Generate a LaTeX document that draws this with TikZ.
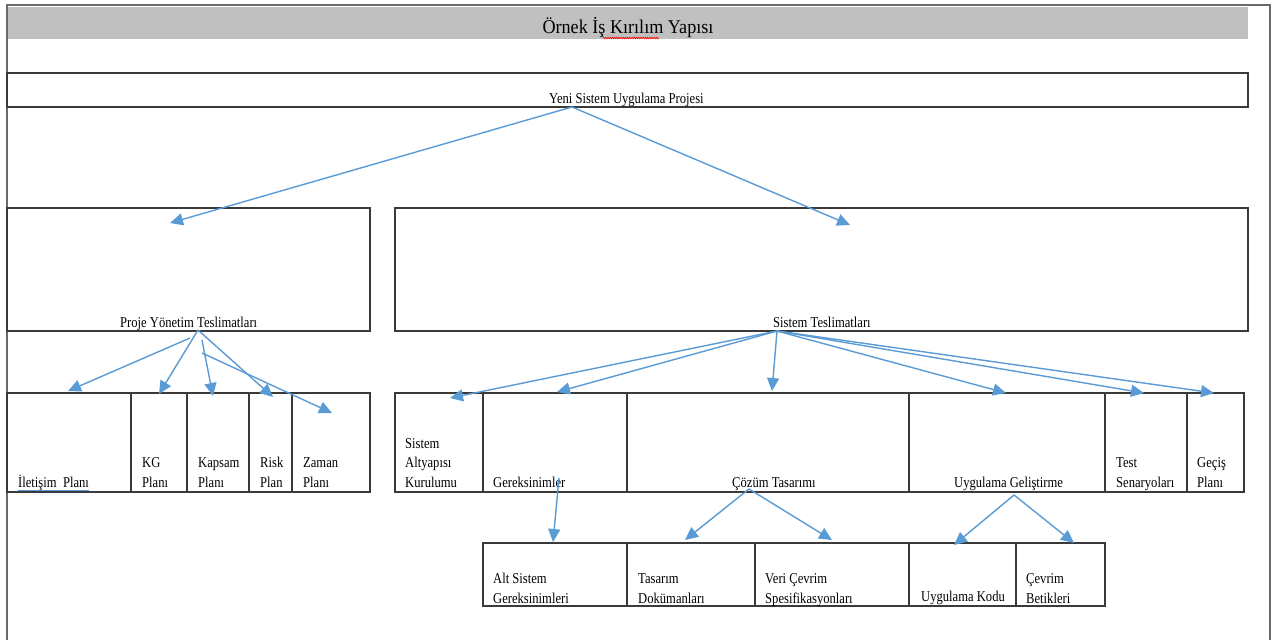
\documentclass[tikz,border=0pt]{standalone}
\usepackage{fontspec}
\setmainfont{Liberation Serif}
\newfontfamily\bodyfont{Liberation Serif}[FakeStretch=0.84]
\newfontfamily\headfont{Liberation Serif}[FakeStretch=0.93]
\usetikzlibrary{arrows.meta,decorations.pathmorphing}
\definecolor{wbsblue}{HTML}{5B9BD5}
\definecolor{wbsline}{HTML}{3A3A3A}
\definecolor{frameline}{HTML}{6A6A6A}
\definecolor{band}{HTML}{C0C0C0}
% stacked label whose baseline is the baseline of its last line
\newcommand\stacked[1]{\parbox[b]{140pt}{\raggedright\bodyfont\fontsize{15}{19.5}\selectfont #1}}
\tikzset{
  cell/.style={draw=wbsline, line width=1.3pt, anchor=north west, inner sep=0pt, outer sep=0pt},
  lbl/.style={inner sep=0pt, anchor=base west, font=\bodyfont\fontsize{15}{19.5}\selectfont},
  link/.style={draw=wbsblue, line width=1.4pt, -{Triangle[length=13pt,width=12pt]}},
}
\begin{document}
\begin{tikzpicture}[x=1pt,y=-1pt]
\useasboundingbox (0,0) rectangle (1273,640);
\fill[white] (0,0) rectangle (1273,640);

% heading band
\fill[band] (8,7) rectangle (1248,39);
\draw[frameline, line width=2pt] (7,640) -- (7,5) -- (1270,5) -- (1270,640);
\node[inner sep=0pt, anchor=base, font=\headfont\fontsize{19.5}{22}\selectfont] (title) at (628,33) {Örnek İş Kırılım Yapısı};
\draw[red, line width=0.6pt, decorate, decoration={zigzag, amplitude=0.8pt, segment length=2.2pt}] (603,38) -- (659,38);

% level 1
\node[cell, minimum width=1241pt, minimum height=34pt] (root) at (7,73) {};
\node[lbl] (root-t) at (549,103) {Yeni Sistem Uygulama Projesi};

% level 2
\node[cell, minimum width=363pt, minimum height=123pt] (pm) at (7,208) {};
\node[cell, minimum width=853pt, minimum height=123pt] (sys) at (395,208) {};
\node[lbl] (pm-t) at (120,327) {Proje Yönetim Teslimatları};
\node[lbl] (sys-t) at (773,327) {Sistem Teslimatları};

% level 3, project management
\node[cell, minimum width=124pt, minimum height=99pt] (ilet) at (7,393) {};
\node[cell, minimum width=56pt, minimum height=99pt] (kg) at (131,393) {};
\node[cell, minimum width=62pt, minimum height=99pt] (kap) at (187,393) {};
\node[cell, minimum width=43pt, minimum height=99pt] (risk) at (249,393) {};
\node[cell, minimum width=78pt, minimum height=99pt] (zam) at (292,393) {};
\node[lbl] (ilet-t) at (18,487) {İletişim\ \ Planı};
\draw[wbsblue, line width=1pt] (18,490) -- (89,490);
\node[lbl] (kg-t) at (142,487) {\stacked{KG\\Planı}};
\node[lbl] (kap-t) at (198,487) {\stacked{Kapsam\\Planı}};
\node[lbl] (risk-t) at (260,487) {\stacked{Risk\\Plan}};
\node[lbl] (zam-t) at (303,487) {\stacked{Zaman\\Planı}};

% level 3, system
\node[cell, minimum width=88pt, minimum height=99pt] (alt) at (395,393) {};
\node[cell, minimum width=144pt, minimum height=99pt] (ger) at (483,393) {};
\node[cell, minimum width=282pt, minimum height=99pt] (coz) at (627,393) {};
\node[cell, minimum width=196pt, minimum height=99pt] (uyg) at (909,393) {};
\node[cell, minimum width=82pt, minimum height=99pt] (test) at (1105,393) {};
\node[cell, minimum width=57pt, minimum height=99pt] (gec) at (1187,393) {};
\node[lbl] (alt-t) at (405,487) {\stacked{Sistem\\Altyapısı\\Kurulumu}};
\node[lbl] (ger-t) at (493,487) {Gereksinimler};
\node[lbl] (coz-t) at (732,487) {Çözüm Tasarımı};
\node[lbl] (uyg-t) at (954,487) {Uygulama Geliştirme};
\node[lbl] (test-t) at (1116,487) {\stacked{Test\\Senaryoları}};
\node[lbl] (gec-t) at (1197,487) {\stacked{Geçiş\\Planı}};

% level 4
\node[cell, minimum width=144pt, minimum height=63pt] (ags) at (483,543) {};
\node[cell, minimum width=128pt, minimum height=63pt] (tas) at (627,543) {};
\node[cell, minimum width=154pt, minimum height=63pt] (veri) at (755,543) {};
\node[cell, minimum width=107pt, minimum height=63pt] (kod) at (909,543) {};
\node[cell, minimum width=89pt, minimum height=63pt] (cev) at (1016,543) {};
\node[lbl] (ags-t) at (493,603) {\stacked{Alt Sistem\\Gereksinimleri}};
\node[lbl] (tas-t) at (638,603) {\stacked{Tasarım\\Dokümanları}};
\node[lbl] (veri-t) at (765,603) {\stacked{Veri Çevrim\\Spesifikasyonları}};
\node[lbl] (kod-t) at (921,601) {Uygulama Kodu};
\node[lbl] (cev-t) at (1026,603) {\stacked{Çevrim\\Betikleri}};

% connector end points
\coordinate (root-s) at (572,107);
\coordinate (pm-in) at (170,223);
\coordinate (sys-in) at (850,225);
\coordinate (pm-s) at (198,330);
\coordinate (pm-s2) at (190,338);
\coordinate (pm-s3) at (202,340);
\coordinate (pm-s4) at (202,353);
\coordinate (ilet-in) at (68,391);
\coordinate (kg-in) at (159,394);
\coordinate (kap-in) at (213,396);
\coordinate (risk-in) at (273,397);
\coordinate (zam-in) at (332,413);
\coordinate (sys-s) at (777,331);
\coordinate (alt-in) at (450,398);
\coordinate (ger-in) at (557,392);
\coordinate (coz-in) at (772,391);
\coordinate (uyg-in) at (1006,393);
\coordinate (test-in) at (1144,393);
\coordinate (gec-in) at (1214,393);
\coordinate (ger-s) at (559,478);
\coordinate (ags-in) at (553,542);
\coordinate (coz-s) at (749,489);
\coordinate (tas-in) at (685,540);
\coordinate (veri-in) at (832,540);
\coordinate (uyg-s) at (1014,495);
\coordinate (kod-in) at (954,545);
\coordinate (cev-in) at (1074,543);

% connectors
\draw[link] (root-s) -- (pm-in);
\draw[link] (root-s) -- (sys-in);
\draw[link] (pm-s2) -- (ilet-in);
\draw[link] (pm-s) -- (kg-in);
\draw[link] (pm-s3) -- (kap-in);
\draw[link] (pm-s) -- (risk-in);
\draw[link] (pm-s4) -- (zam-in);
\draw[link] (sys-s) -- (alt-in);
\draw[link] (sys-s) -- (ger-in);
\draw[link] (sys-s) -- (coz-in);
\draw[link] (sys-s) -- (uyg-in);
\draw[link] (sys-s) -- (test-in);
\draw[link] (sys-s) -- (gec-in);
\draw[link] (ger-s) -- (ags-in);
\draw[link] (coz-s) -- (tas-in);
\draw[link] (coz-s) -- (veri-in);
\draw[link] (uyg-s) -- (kod-in);
\draw[link] (uyg-s) -- (cev-in);
\end{tikzpicture}
\end{document}
